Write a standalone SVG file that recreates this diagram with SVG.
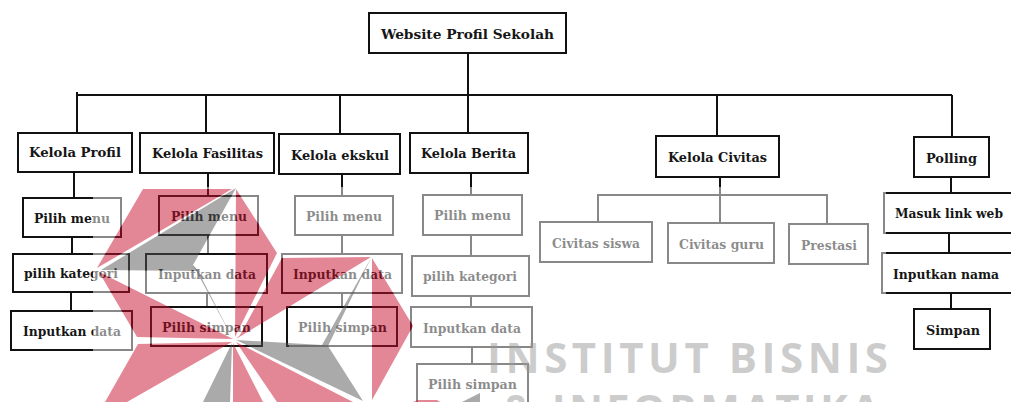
<svg xmlns="http://www.w3.org/2000/svg" width="1011" height="402" viewBox="0 0 1011 402">
<style>
.b{fill:#fff;stroke:#111;stroke-width:2}
.t{font-family:"DejaVu Serif Condensed","DejaVu Serif","Liberation Serif",serif;font-weight:700;font-stretch:condensed;font-size:13.5px;fill:#161616}
.c{fill:none;stroke:#111;stroke-width:2}
.r{fill:#c8102e;fill-opacity:.5}
.g{fill:#555;fill-opacity:.5}
.w{font-family:"Open Sans","DejaVu Sans",sans-serif;font-weight:700;font-size:42px;fill:#999;fill-opacity:.5}
</style>
<defs>
<mask id="fade" maskUnits="userSpaceOnUse" x="0" y="0" width="1011" height="402">
<rect x="93" y="187" width="793" height="215" fill="#fff"/>
<g fill="#000">
<polygon points="143,189 232,189 97,268"/>
<polygon points="99,272 233,339 137,337"/>
<polygon points="138,344 232,342 127,402 105,402"/>
<polygon points="236,189 277,253 235,337"/>
<polygon points="371,257 282,258 240,335 236,339"/>
<polygon points="372,258 413,326 372,400"/>
<polygon points="236,188 101,270 198,271 193,265"/>
<rect x="150" y="306" width="113" height="3"/>
<rect x="150" y="345" width="113" height="3"/>
<rect x="261" y="306" width="3" height="42"/>
<rect x="145" y="253" width="123" height="3"/>
<rect x="266" y="253" width="3" height="41"/>
<rect x="286" y="306" width="112" height="3"/>
<rect x="396" y="306" width="3" height="41"/>
<rect x="286" y="306" width="3" height="41"/>
</g>
</mask>
</defs>
<g id="connectors">
<path class="c" d="M468 53V95M77 95H952M77 92V133M206 94V133M340 95V134M468 95V133M717 95V136M952 95V137"/>
<path class="c" d="M74 172V198M72 237V254M71 292V311"/>
<path class="c" d="M208 173V196M208 235V254M207 293V307"/>
<path class="c" d="M342 174V196M342 235V254M342 293V307"/>
<path class="c" d="M471 173V195M471 235V256M471 296V307M472 347V364"/>
<path class="c" d="M720 177V223M598 222V195H827V224"/>
<path class="c" d="M951 177V193M949 233V253M951 293V309"/>
</g>
<g id="n-root"><rect class="b" x="369" y="13" width="197" height="40"/><text class="t" x="381" y="39" textLength="173" lengthAdjust="spacingAndGlyphs">Website Profil Sekolah</text></g>
<g id="n-profil"><rect class="b" x="18" y="133" width="114" height="39"/><text class="t" x="29" y="157" textLength="92" lengthAdjust="spacingAndGlyphs">Kelola Profil</text></g>
<g id="n-fasilitas"><rect class="b" x="140" y="133" width="134" height="40"/><text class="t" x="152" y="158" textLength="111" lengthAdjust="spacingAndGlyphs">Kelola Fasilitas</text></g>
<g id="n-ekskul"><rect class="b" x="279" y="134" width="121" height="40"/><text class="t" x="291" y="160" textLength="98" lengthAdjust="spacingAndGlyphs">Kelola ekskul</text></g>
<g id="n-berita"><rect class="b" x="410" y="133" width="118" height="40"/><text class="t" x="421" y="158" textLength="95" lengthAdjust="spacingAndGlyphs">Kelola Berita</text></g>
<g id="n-civitas"><rect class="b" x="656" y="136" width="123" height="41"/><text class="t" x="668" y="162" textLength="99" lengthAdjust="spacingAndGlyphs">Kelola Civitas</text></g>
<g id="n-polling"><rect class="b" x="914" y="137" width="75" height="40"/><text class="t" x="926" y="163" textLength="51" lengthAdjust="spacingAndGlyphs">Polling</text></g>
<g id="n-p1"><rect class="b" x="23" y="198" width="98" height="39"/><text class="t" x="34" y="223" textLength="76" lengthAdjust="spacingAndGlyphs">Pilih menu</text></g>
<g id="n-p2"><rect class="b" x="13" y="254" width="116" height="38"/><text class="t" x="24" y="278" textLength="94" lengthAdjust="spacingAndGlyphs">pilih kategori</text></g>
<g id="n-p3"><rect class="b" x="11" y="311" width="121" height="39"/><text class="t" x="23" y="336" textLength="98" lengthAdjust="spacingAndGlyphs">Inputkan data</text></g>
<g id="n-f1"><rect class="b" x="159" y="196" width="99" height="39"/><text class="t" x="171" y="221" textLength="76" lengthAdjust="spacingAndGlyphs">Pilih menu</text></g>
<g id="n-f2"><rect class="b" x="146" y="254" width="121" height="39"/><text class="t" x="158" y="279" textLength="98" lengthAdjust="spacingAndGlyphs">Inputkan data</text></g>
<g id="n-f3"><rect class="b" x="151" y="307" width="111" height="39"/><text class="t" x="162" y="332" textLength="89" lengthAdjust="spacingAndGlyphs">Pilih simpan</text></g>
<g id="n-e1"><rect class="b" x="295" y="196" width="98" height="39"/><text class="t" x="306" y="221" textLength="76" lengthAdjust="spacingAndGlyphs">Pilih menu</text></g>
<g id="n-e2"><rect class="b" x="282" y="254" width="120" height="39"/><text class="t" x="293" y="279" textLength="99" lengthAdjust="spacingAndGlyphs">Inputkan data</text></g>
<g id="n-e3"><rect class="b" x="287" y="307" width="110" height="39"/><text class="t" x="298" y="332" textLength="89" lengthAdjust="spacingAndGlyphs">Pilih simpan</text></g>
<g id="n-b1"><rect class="b" x="423" y="195" width="99" height="40"/><text class="t" x="434" y="220" textLength="77" lengthAdjust="spacingAndGlyphs">Pilih menu</text></g>
<g id="n-b2"><rect class="b" x="412" y="256" width="117" height="40"/><text class="t" x="423" y="281" textLength="94" lengthAdjust="spacingAndGlyphs">pilih kategori</text></g>
<g id="n-b3"><rect class="b" x="411" y="307" width="121" height="40"/><text class="t" x="423" y="333" textLength="98" lengthAdjust="spacingAndGlyphs">Inputkan data</text></g>
<g id="n-b4"><rect class="b" x="417" y="364" width="111" height="50"/><text class="t" x="428" y="389" textLength="89" lengthAdjust="spacingAndGlyphs">Pilih simpan</text></g>
<g id="n-c1"><rect class="b" x="540" y="222" width="112" height="40"/><text class="t" x="552" y="248" textLength="88" lengthAdjust="spacingAndGlyphs">Civitas siswa</text></g>
<g id="n-c2"><rect class="b" x="668" y="223" width="106" height="40"/><text class="t" x="679" y="249" textLength="85" lengthAdjust="spacingAndGlyphs">Civitas guru</text></g>
<g id="n-c3"><rect class="b" x="789" y="224" width="79" height="40"/><text class="t" x="801" y="250" textLength="56" lengthAdjust="spacingAndGlyphs">Prestasi</text></g>
<g id="n-l1"><rect class="b" x="884" y="193" width="140" height="40"/><text class="t" x="895" y="218" textLength="108" lengthAdjust="spacingAndGlyphs">Masuk link web</text></g>
<g id="n-l2"><rect class="b" x="882" y="253" width="140" height="40"/><text class="t" x="893" y="279" textLength="106" lengthAdjust="spacingAndGlyphs">Inputkan nama</text></g>
<g id="n-l3"><rect class="b" x="914" y="309" width="76" height="40"/><text class="t" x="926" y="335" textLength="54" lengthAdjust="spacingAndGlyphs">Simpan</text></g>
<rect x="0" y="0" width="1011" height="402" fill="#fff" fill-opacity=".5" mask="url(#fade)"/>
<g id="watermark">
<polygon class="r" points="143,189 232,189 97,268"/>
<polygon class="r" points="99,272 233,339 137,337"/>
<polygon class="r" points="138,344 232,342 127,402 105,402"/>
<polygon class="r" points="233,343 233,402 263,402"/>
<polygon class="r" points="236,342 277,402 353,402"/>
<polygon class="r" points="236,189 277,253 235,337"/>
<polygon class="r" points="371,257 282,258 240,335 236,339"/>
<polygon class="r" points="372,258 413,326 372,400"/>
<polygon class="r" points="413,402 418,400 437,400 440,402"/>
<polygon class="g" points="236,188 101,270 198,271 193,265"/>
<polygon class="g" points="193,265 198,271 233,339"/>
<polygon class="g" points="232,343 203,402 230,402"/>
<polygon class="g" points="236,340 322,345 371,258 328,346 363,401"/>
<polygon class="g" points="462,402 480,393 480,402"/>
<text class="w" x="487" y="373" textLength="401">INSTITUT BISNIS</text>
<text class="w" x="503" y="425" textLength="377">&amp; INFORMATIKA</text>
</g>
</svg>
